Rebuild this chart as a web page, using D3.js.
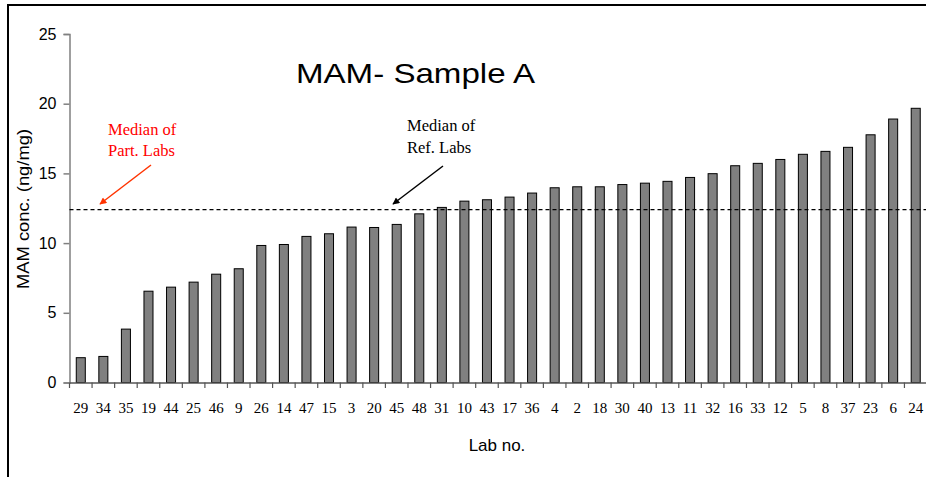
<!DOCTYPE html>
<html>
<head>
<meta charset="utf-8">
<script src="https://cdn.jsdelivr.net/npm/d3@7"></script>
<style>
  html, body { margin: 0; padding: 0; background: #fff; }
  svg { display: block; }
</style>
</head>
<body>
<svg id="chart" width="926" height="478"></svg>
<script>
const labs = ["29","34","35","19","44","25","46","9","26","14","47","15","3","20","45","48","31","10","43","17","36","4","2","18","30","40","13","11","32","16","33","12","5","8","37","23","6","24"];
const values = [1.78,1.87,3.83,6.55,6.84,7.2,7.77,8.16,9.83,9.9,10.48,10.67,11.15,11.12,11.34,12.1,12.56,13.01,13.11,13.3,13.59,13.97,14.04,14.04,14.2,14.3,14.43,14.71,14.98,15.55,15.72,16.0,16.37,16.58,16.87,17.77,18.9,19.67];
const yTicks = [0,5,10,15,20,25];
const medianRef = 12.4;
const title = "MAM- Sample A";
const yLabel = "MAM conc. (ng/mg)";
const xLabel = "Lab no.";
const notePart = ["Median of","Part. Labs"];
const noteRef = ["Median of","Ref. Labs"];

const svg = d3.select("#chart");
const mLeft = 69.5, mRight = 927, mTop = 34, mBottom = 382.5;

const x = d3.scaleBand().domain(labs).range([mLeft, mRight]).padding(0);
const y = d3.scaleLinear().domain([0, 25]).range([mBottom, mTop]);

// frame
svg.append("line").attr("x1", 8).attr("x2", 926).attr("y1", 5).attr("y2", 5)
  .attr("stroke", "#000").attr("stroke-width", 2);
svg.append("line").attr("x1", 8).attr("x2", 8).attr("y1", 4).attr("y2", 477)
  .attr("stroke", "#000").attr("stroke-width", 2);

// defs arrowheads
const defs = svg.append("defs");
function marker(id, color) {
  defs.append("marker").attr("id", id).attr("viewBox", "0 0 10 10")
    .attr("refX", 9).attr("refY", 5).attr("markerWidth", 9).attr("markerHeight", 7)
    .attr("markerUnits", "userSpaceOnUse").attr("orient", "auto")
    .append("path").attr("d", "M0,0 L10,5 L0,10 z").attr("fill", color);
}
marker("arrRed", "#ff3300");
marker("arrBlack", "#000");

// bars
const bw = x.bandwidth() * 0.4;
svg.append("g").selectAll("rect").data(labs).join("rect")
  .attr("x", (d) => x(d) + x.bandwidth() / 2 - bw / 2)
  .attr("y", (d, i) => y(values[i]))
  .attr("width", bw)
  .attr("height", (d, i) => y(0) - y(values[i]))
  .attr("fill", "#808080")
  .attr("stroke", "#000")
  .attr("stroke-width", 1);

// y axis
const yAxis = svg.append("g").attr("transform", `translate(${mLeft},0)`)
  .call(d3.axisLeft(y).tickValues(yTicks).tickSize(6).tickPadding(7).tickFormat(d3.format("d")));
yAxis.select(".domain").attr("stroke", "#808080").attr("stroke-width", 1.5);
yAxis.selectAll(".tick line").attr("stroke", "#808080").attr("stroke-width", 1.5);
yAxis.selectAll("text").attr("font-family", "Liberation Sans, Arial, sans-serif")
  .attr("font-size", 16).attr("fill", "#000");

// x axis
const xAxis = svg.append("g").attr("transform", `translate(0,${mBottom})`)
  .call(d3.axisBottom(x).tickSize(0).tickPadding(20));
xAxis.select(".domain").attr("stroke", "#555").attr("stroke-width", 1.5);
xAxis.selectAll("text").attr("font-family", "Liberation Serif, Times New Roman, serif")
  .attr("font-size", 15).attr("fill", "#000");
// tick marks at category boundaries
const bounds = labs.map(d => x(d)).concat([x(labs[labs.length - 1]) + x.bandwidth()]);
xAxis.append("g").selectAll("line").data(bounds).join("line")
  .attr("x1", d => d).attr("x2", d => d).attr("y1", 0).attr("y2", 5.5)
  .attr("stroke", "#555").attr("stroke-width", 1.2);

// median line
svg.append("line").attr("x1", mLeft).attr("x2", 926)
  .attr("y1", y(medianRef)).attr("y2", y(medianRef))
  .attr("stroke", "#000").attr("stroke-width", 1.3).attr("stroke-dasharray", "4,3");

// title
svg.append("text").attr("x", 296).attr("y", 83)
  .attr("font-family", "Liberation Sans, Arial, sans-serif").attr("font-size", 28)
  .attr("textLength", 239).attr("lengthAdjust", "spacingAndGlyphs")
  .attr("fill", "#000").text(title);

// axis titles
svg.append("text").attr("transform", "translate(29,209) rotate(-90)").attr("text-anchor", "middle")
  .attr("font-family", "Liberation Sans, Arial, sans-serif").attr("font-size", 16)
  .attr("textLength", 160).attr("lengthAdjust", "spacingAndGlyphs")
  .attr("fill", "#000").text(yLabel);
svg.append("text").attr("x", 497).attr("y", 451).attr("text-anchor", "middle")
  .attr("font-family", "Liberation Sans, Arial, sans-serif").attr("font-size", 17)
  .attr("fill", "#000").text(xLabel);

// annotations
const serif = "Liberation Serif, Times New Roman, serif";
svg.append("g").selectAll("text").data(notePart).join("text")
  .attr("x", 108).attr("y", (d, i) => 135 + i * 21)
  .attr("font-family", serif).attr("font-size", 16.5).attr("fill", "#ff0000").text(d => d);
svg.append("g").selectAll("text").data(noteRef).join("text")
  .attr("x", 407).attr("y", (d, i) => 131 + i * 22)
  .attr("font-family", serif).attr("font-size", 16.5).attr("fill", "#000").text(d => d);

svg.append("line").attr("x1", 151).attr("y1", 165).attr("x2", 100).attr("y2", 204)
  .attr("stroke", "#ff3300").attr("stroke-width", 1.5).attr("marker-end", "url(#arrRed)");
svg.append("line").attr("x1", 443).attr("y1", 166).attr("x2", 393).attr("y2", 204)
  .attr("stroke", "#000").attr("stroke-width", 1.5).attr("marker-end", "url(#arrBlack)");
</script>
</body>
</html>
